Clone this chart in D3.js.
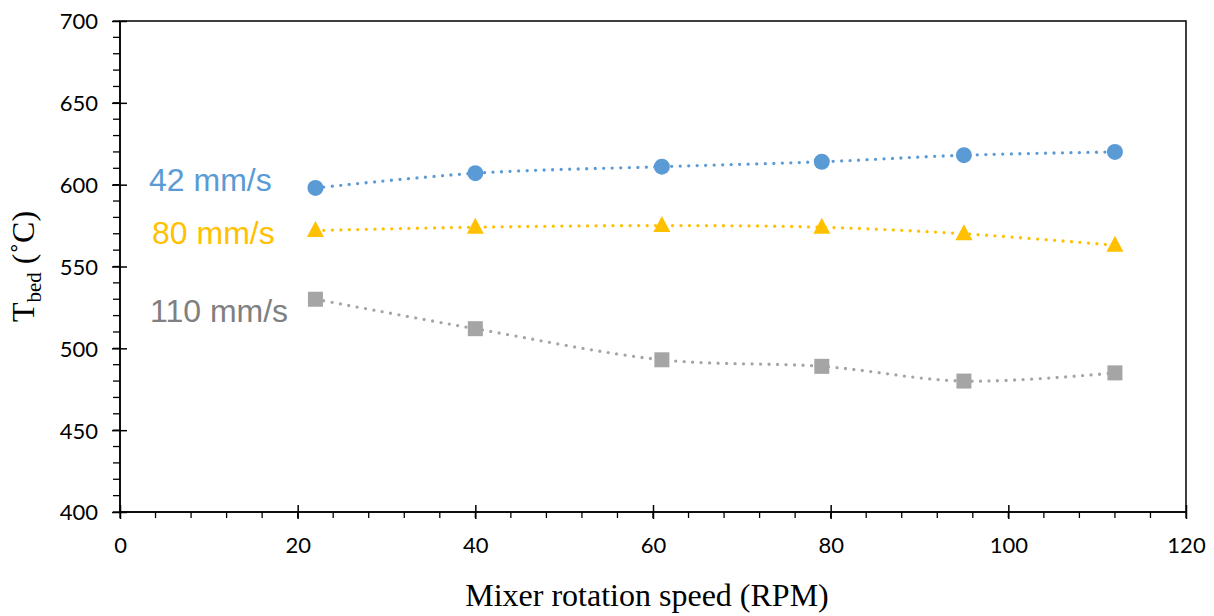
<!DOCTYPE html>
<html><head><meta charset="utf-8">
<script src="https://cdn.jsdelivr.net/npm/d3@7"></script>
<style>body{margin:0;background:#fff}svg{display:block}</style>
</head><body>
<script>
const rpm = [22, 40, 61, 79, 95, 112];
const t42 = [598, 607, 611, 614, 618, 620];
const t80 = [572, 574, 575, 574, 570, 563];
const t110 = [530, 512, 493, 489, 480, 485];
const seriesNames = ["42 mm/s", "80 mm/s", "110 mm/s"];
const xTicks = [0, 20, 40, 60, 80, 100, 120];
const yTicks = [400, 450, 500, 550, 600, 650, 700];

const W = 1214, H = 616;
const m = {l: 120, r: 1186, t: 21, b: 512};
const svg = d3.select("body").append("svg").attr("width", W).attr("height", H);
const x = d3.scaleLinear().domain([0, 120]).range([m.l, m.r]);
const y = d3.scaleLinear().domain([400, 700]).range([m.b, m.t]);
const tickFont = "Lato, 'Open Sans', sans-serif";

// frame
svg.append("rect").attr("x", m.l).attr("y", m.t).attr("width", m.r - m.l).attr("height", m.b - m.t)
  .attr("fill", "none").attr("stroke", "#000").attr("stroke-width", 1.5);

// minor ticks
const minorY = d3.range(400, 701, 10);
svg.append("g").selectAll("line").data(minorY).join("line")
  .attr("x1", m.l - 7).attr("x2", m.l).attr("y1", d => y(d)).attr("y2", d => y(d))
  .attr("stroke", "#000").attr("stroke-width", 1.3);
const minorX = d3.range(0, 121, 4);
svg.append("g").selectAll("line").data(minorX).join("line")
  .attr("y1", m.b).attr("y2", m.b + 6).attr("x1", d => x(d)).attr("x2", d => x(d))
  .attr("stroke", "#000").attr("stroke-width", 1.3);

// major axes
const yAxis = svg.append("g").attr("transform", `translate(${m.l},0)`)
  .call(d3.axisLeft(y).tickValues(yTicks).tickSize(7).tickFormat(d3.format("d")));
yAxis.selectAll(".tick line").attr("x2", 7).attr("x1", -8).attr("stroke-width", 1.5);
yAxis.select(".domain").attr("stroke-width", 1.5).attr("d", `M0,${m.t}V${m.b}`);
yAxis.selectAll("text").attr("x", -22).attr("dy", "0.36em").attr("font-family", tickFont).attr("font-size", 22).attr("fill", "#000");

const xAxis = svg.append("g").attr("transform", `translate(0,${m.b})`)
  .call(d3.axisBottom(x).tickValues(xTicks).tickSize(7).tickFormat(d3.format("d")));
xAxis.selectAll(".tick line").attr("y1", -7).attr("y2", 7).attr("stroke-width", 1.5);
xAxis.select(".domain").attr("stroke-width", 1.5).attr("d", `M${m.l},0H${m.r}`);
xAxis.selectAll("text").attr("y", 41).attr("dy", 0).attr("font-family", tickFont).attr("font-size", 22).attr("fill", "#000");

const series = [
  {name: seriesNames[0], vals: t42, color: "#5B9BD5", sym: "circle", label: {x: 149, y: 191, c: "#5B9BD5"}},
  {name: seriesNames[1], vals: t80, color: "#FFC000", sym: "triangle", label: {x: 152, y: 244, c: "#FFC000"}},
  {name: seriesNames[2], vals: t110, color: "#A5A5A5", sym: "square", label: {x: 150, y: 322, c: "#808080"}}
];

const line = d3.line().x(d => x(d[0])).y(d => y(d[1])).curve(d3.curveCatmullRom.alpha(0.5));
series.forEach(s => {
  const pts = rpm.map((r, i) => [r, s.vals[i]]);
  svg.append("path").attr("d", line(pts)).attr("fill", "none").attr("stroke", s.color)
    .attr("stroke-width", 3.3).attr("stroke-linecap", "round").attr("stroke-dasharray", "0 8.5");
  const g = svg.append("g").attr("fill", s.color);
  pts.forEach(p => {
    const cx = x(p[0]), cy = y(p[1]);
    if (s.sym === "circle") g.append("circle").attr("cx", cx).attr("cy", cy).attr("r", 8);
    else if (s.sym === "square") g.append("rect").attr("x", cx - 7.5).attr("y", cy - 7.5).attr("width", 15).attr("height", 15);
    else g.append("path").attr("d", `M${cx},${cy - 9.5}L${cx + 8.5},${cy + 6.5}L${cx - 8.5},${cy + 6.5}Z`);
  });
  svg.append("text").attr("x", s.label.x).attr("y", s.label.y).attr("fill", s.label.c)
    .attr("font-family", "'Liberation Sans', Arial, sans-serif").attr("font-size", 32).text(s.name);
});

// axis titles
svg.append("text").attr("x", 647).attr("y", 606).attr("text-anchor", "middle")
  .attr("font-family", "'Liberation Serif', 'Times New Roman', serif").attr("font-size", 32).attr("fill", "#000")
  .text("Mixer rotation speed (RPM)");
const yt = svg.append("text").attr("transform", `translate(34,${(m.t + m.b) / 2}) rotate(-90)`)
  .attr("text-anchor", "middle").attr("font-family", "'Liberation Serif', 'Times New Roman', serif")
  .attr("font-size", 32).attr("fill", "#000");
yt.append("tspan").text("T");
yt.append("tspan").attr("font-size", 21).attr("dy", 7).text("bed");
yt.append("tspan").attr("dy", -7).text(" (˚C)");
</script>
</body></html>
